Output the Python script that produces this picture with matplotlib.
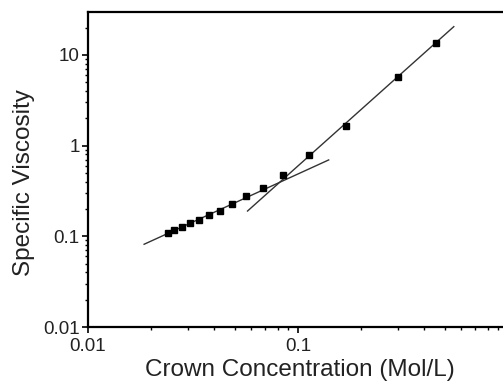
import matplotlib
matplotlib.use("Agg")
import matplotlib.pyplot as plt
import numpy as np
from matplotlib.ticker import FixedLocator, FixedFormatter

# Data
conc = [0.0241, 0.0258, 0.0281, 0.0307, 0.0337, 0.0375, 0.0423, 0.0483,
        0.0565, 0.0678, 0.0845, 0.1124, 0.169, 0.300, 0.452]
visc = [0.108, 0.1175, 0.1257, 0.139, 0.153, 0.170, 0.192, 0.227,
        0.276, 0.344, 0.479, 0.782, 1.65, 5.72, 13.7]

# Fit lines (endpoints in data units)
fit_low_x = [0.0185, 0.140]
fit_low_y = [0.0817, 0.695]
fit_high_x = [0.0575, 0.552]
fit_high_y = [0.190, 20.5]

x_ticks = [0.01, 0.1, 1]
x_tick_labels = ['0.01', '0.1', '']
y_ticks = [0.01, 0.1, 1, 10]
y_tick_labels = ['0.01', '0.1', '1', '10']

plt.rcParams['font.family'] = ['Liberation Sans', 'DejaVu Sans']

fig = plt.figure(figsize=(5.03, 3.83), dpi=100)
ax = fig.add_axes([88/503, 56/383, 420/503, (327-12.3)/383])
ax.set_xscale('log')
ax.set_yscale('log')
ax.set_xlim(0.01, 1)
ax.set_ylim(0.01, 29.5)

ax.plot(fit_low_x, fit_low_y, color='#333333', lw=1.0)
ax.plot(fit_high_x, fit_high_y, color='#333333', lw=1.0)
ax.plot(conc, visc, ls='none', marker='s', ms=4.5, color='black')

for s in ['left', 'bottom', 'top']:
    ax.spines[s].set_linewidth(1.6)
ax.spines['right'].set_visible(False)

ax.tick_params(which='major', direction='out', length=4, width=1.2, labelsize=13.5,
               top=False, right=False, labelcolor='#222222')
ax.tick_params(axis='y', which='major', pad=2)
ax.tick_params(axis='x', which='major', pad=4)
ax.tick_params(which='minor', direction='out', length=2.5, width=1.0,
               top=False, right=False)

ax.xaxis.set_major_locator(FixedLocator(x_ticks))
ax.xaxis.set_major_formatter(FixedFormatter(x_tick_labels))
ax.yaxis.set_major_locator(FixedLocator(y_ticks))
ax.yaxis.set_major_formatter(FixedFormatter(y_tick_labels))

ax.set_xlabel('Crown Concentration (Mol/L)', fontsize=17.5, color='#222222')
ax.set_ylabel('Specific Viscosity', fontsize=17.5, color='#222222')
ax.xaxis.set_label_coords((300 - 88) / 420, -32 / 314.7)
ax.yaxis.set_label_coords(-(88 - 35) / 420, (327 - 183) / 314.7)

fig.savefig('out.png', dpi=100)
